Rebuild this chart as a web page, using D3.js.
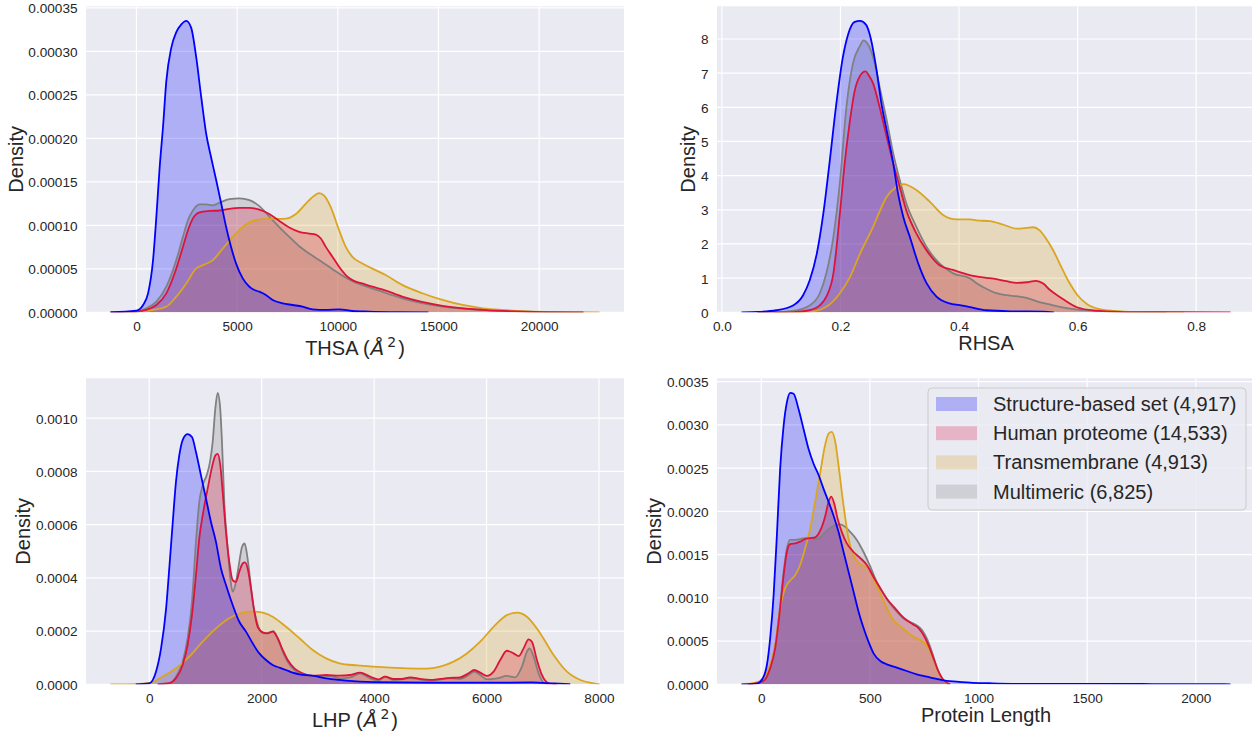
<!DOCTYPE html>
<html><head><meta charset="utf-8">
<script src="https://cdn.jsdelivr.net/npm/d3@7/dist/d3.min.js"></script>
<style>
body{margin:0;background:#fff;}
svg{display:block;}
text{font-family:"Liberation Sans",Arial,sans-serif;fill:#262626;}
</style>
</head><body>
<svg id="c" width="1252" height="734"></svg>
<script>
// ---------------- DATA ----------------
const seriesNames = ["Structure-based set (4,917)", "Human proteome (14,533)", "Transmembrane (4,913)", "Multimeric (6,825)"];
const seriesColors = ["#0000ff", "#dc143c", "#daa520", "#808080"];

// Panel A: THSA (Å²)  [x, density]
const thsaStructure = [[-1290,0],[0,0.0000019],[330,0.0000084],[580,0.000022],[825,0.00006],[990,0.00011],[1155,0.000167],[1320,0.000213],[1485,0.000266],[1730,0.000304],[1980,0.000322],[2230,0.000331],[2475,0.000335],[2720,0.000327],[2970,0.000293],[3220,0.000247],[3465,0.000205],[3710,0.000178],[3960,0.000152],[4210,0.000125],[4455,0.000098],[4700,0.000075],[4950,0.000056],[5280,0.000039],[5610,0.0000294],[5860,0.0000256],[6100,0.0000237],[6430,0.0000199],[6765,0.0000141],[7260,0.0000103],[7755,0.0000084],[8250,0.0000065],[8745,0.0000034],[9400,0.0000027],[10065,0.0000034],[10725,0.0000015],[11550,0.0000008],[13000,0.0000002],[14500,0]];
const thsaHuman = [[-1290,0],[0,0.0000008],[495,0.0000027],[990,0.0000084],[1485,0.0000218],[1980,0.0000504],[2310,0.0000752],[2560,0.0000944],[2805,0.000108],[3135,0.000115],[3630,0.0001165],[4125,0.000117],[4620,0.000119],[5115,0.00012],[5610,0.00012],[6105,0.000118],[6600,0.000113],[7095,0.000105],[7590,0.0000974],[8085,0.0000924],[8580,0.0000905],[8910,0.0000894],[9160,0.0000848],[9405,0.0000752],[9735,0.0000638],[10065,0.0000523],[10395,0.0000428],[10725,0.000037],[11220,0.0000332],[11715,0.0000294],[12210,0.0000264],[13200,0.000018],[15200,0.0000075],[17200,0.0000028],[19200,0.0000008],[22200,0]];
const thsaTransmembrane = [[-300,0],[825,0.0000027],[1485,0.0000065],[1980,0.000018],[2475,0.0000332],[2970,0.0000504],[3300,0.0000542],[3795,0.00006],[4290,0.0000733],[4785,0.0000867],[5280,0.000098],[5775,0.000105],[6270,0.000107],[6765,0.0001073],[7425,0.0001077],[7920,0.000113],[8415,0.000125],[8830,0.000134],[9075,0.000137],[9320,0.000134],[9650,0.000121],[10065,0.0000944],[10395,0.0000752],[10725,0.0000638],[11220,0.0000562],[11880,0.0000485],[12375,0.0000428],[13200,0.0000315],[14200,0.0000219],[15200,0.0000142],[16200,0.0000084],[17200,0.0000046],[18200,0.0000027],[20200,0.0000006],[23000,0]];
const thsaMultimeric = [[-1290,0],[0,0.0000011],[495,0.0000046],[990,0.0000122],[1485,0.0000294],[1980,0.00006],[2310,0.0000867],[2560,0.000106],[2805,0.000117],[3135,0.000124],[3465,0.000124],[3795,0.000123],[4125,0.000126],[4620,0.00013],[5115,0.000131],[5610,0.000129],[6105,0.000122],[6600,0.00011],[7095,0.000098],[7590,0.0000867],[8085,0.000076],[8580,0.0000676],[9075,0.00006],[9570,0.0000523],[10065,0.0000447],[10560,0.0000378],[11055,0.0000325],[11550,0.0000286],[12045,0.0000248],[13200,0.000016],[15200,0.0000065],[17200,0.0000027],[19200,0.0000008],[22200,0]];
const thsaXTicks = [0, 5000, 10000, 15000, 20000];
const thsaYTicks = [0, 0.00005, 0.0001, 0.00015, 0.0002, 0.00025, 0.0003, 0.00035];

// Panel B: RHSA
const rhsaStructure = [[0.033,0],[0.06,0.01],[0.092,0.06],[0.12,0.2],[0.137,0.5],[0.148,0.93],[0.16,1.71],[0.171,2.88],[0.182,4.44],[0.193,6.1],[0.204,7.46],[0.213,8.14],[0.224,8.5],[0.233,8.53],[0.243,8.42],[0.249,8.16],[0.261,7.08],[0.269,6.12],[0.278,5.33],[0.289,4.36],[0.297,3.49],[0.306,2.79],[0.317,2.21],[0.331,1.44],[0.345,0.86],[0.362,0.46],[0.384,0.26],[0.401,0.21],[0.419,0.15],[0.446,0.06],[0.486,0.03],[0.542,0.02],[0.56,0]];
const rhsaHuman = [[0.06,0],[0.12,0.005],[0.148,0.06],[0.165,0.2],[0.176,0.45],[0.188,1.13],[0.199,2.88],[0.207,4.34],[0.216,5.61],[0.224,6.48],[0.233,6.92],[0.242,7.05],[0.249,6.9],[0.255,6.7],[0.266,6.01],[0.278,5.13],[0.289,4.36],[0.3,3.67],[0.311,2.99],[0.328,2.31],[0.345,1.82],[0.367,1.38],[0.39,1.24],[0.412,1.12],[0.429,1.05],[0.446,1.01],[0.463,0.97],[0.48,0.91],[0.497,0.86],[0.514,0.88],[0.53,0.92],[0.542,0.84],[0.553,0.66],[0.57,0.45],[0.6,0.14],[0.63,0.05],[0.67,0.015],[0.72,0.004],[0.858,0]];
const rhsaTransmembrane = [[0.09,0],[0.148,0.01],[0.176,0.16],[0.199,0.56],[0.216,1.03],[0.233,1.72],[0.255,2.5],[0.266,2.95],[0.278,3.38],[0.294,3.67],[0.306,3.75],[0.328,3.58],[0.351,3.23],[0.373,2.85],[0.396,2.72],[0.419,2.72],[0.429,2.69],[0.452,2.67],[0.474,2.57],[0.497,2.45],[0.514,2.47],[0.525,2.49],[0.536,2.4],[0.547,2.15],[0.559,1.81],[0.57,1.42],[0.585,0.9],[0.6,0.5],[0.615,0.25],[0.635,0.1],[0.66,0.04],[0.7,0.01],[0.78,0]];
const rhsaMultimeric = [[0.06,0],[0.092,0.005],[0.12,0.04],[0.148,0.2],[0.165,0.55],[0.176,1.13],[0.188,2.2],[0.199,3.8],[0.21,6.0],[0.221,7.28],[0.233,7.8],[0.239,7.96],[0.246,7.85],[0.255,7.47],[0.266,6.6],[0.278,5.62],[0.289,4.65],[0.3,3.87],[0.311,3.19],[0.328,2.5],[0.345,1.92],[0.367,1.43],[0.39,1.14],[0.419,0.99],[0.429,0.86],[0.446,0.69],[0.463,0.56],[0.48,0.5],[0.497,0.47],[0.514,0.42],[0.53,0.33],[0.553,0.23],[0.57,0.16],[0.6,0.08],[0.65,0.03],[0.7,0.01],[0.75,0]];
const rhsaXTicks = [0, 0.2, 0.4, 0.6, 0.8];
const rhsaYTicks = [0, 1, 2, 3, 4, 5, 6, 7, 8];

// Panel C: LHP (Å²)
const lhpStructure = [[-240,0],[0,0.0000038],[120,0.0000475],[210,0.000135],[300,0.000285],[356,0.000435],[415,0.0006],[475,0.00076],[534,0.00086],[605,0.000923],[683,0.00094],[760,0.000929],[831,0.000873],[920,0.000785],[1009,0.000698],[1098,0.00061],[1187,0.000535],[1276,0.000435],[1365,0.000373],[1484,0.000298],[1602,0.000235],[1721,0.000198],[1840,0.000154],[1958,0.000116],[2077,0.0000913],[2196,0.0000725],[2315,0.0000625],[2433,0.0000538],[2552,0.0000438],[2671,0.0000375],[2908,0.0000325],[3146,0.0000225],[3383,0.0000163],[3500,0.0000138],[4000,0.000008],[5000,0.000006],[6000,0.000006],[6800,0.000007],[7200,0.000003],[7490,0]];
const lhpHuman = [[150,0],[356,0.000004],[475,0.0000225],[594,0.0000725],[683,0.000148],[760,0.00026],[831,0.00041],[890,0.000548],[961,0.000648],[1039,0.000735],[1116,0.000816],[1175,0.00086],[1217,0.000866],[1264,0.000823],[1306,0.000723],[1365,0.000573],[1424,0.00046],[1484,0.000391],[1543,0.000385],[1602,0.000423],[1662,0.000454],[1703,0.000458],[1751,0.000435],[1810,0.00036],[1870,0.000273],[1929,0.000216],[2018,0.000195],[2107,0.000191],[2196,0.000198],[2285,0.000173],[2374,0.000129],[2463,0.0000913],[2582,0.00006],[2730,0.0000413],[2908,0.0000313],[3146,0.000035],[3383,0.0000325],[3573,0.000035],[3751,0.0000438],[3929,0.0000288],[4077,0.0000188],[4196,0.0000288],[4344,0.00002],[4493,0.00002],[4641,0.0000263],[4819,0.00002],[4997,0.0000163],[5175,0.00002],[5353,0.0000238],[5531,0.000026],[5680,0.0000413],[5780,0.0000538],[5887,0.0000438],[6006,0.0000313],[6125,0.0000475],[6243,0.0000913],[6362,0.000126],[6481,0.000116],[6570,0.000106],[6659,0.000135],[6748,0.000169],[6807,0.00016],[6896,0.0000913],[6985,0.000035],[7104,0.0000038],[7250,0]];
const lhpTransmembrane = [[-690,0],[-237,0.000001],[0,0.000005],[237,0.0000288],[475,0.00006],[712,0.000104],[950,0.00016],[1187,0.00021],[1424,0.000248],[1662,0.000269],[1840,0.000273],[2018,0.000269],[2196,0.000254],[2433,0.000216],[2671,0.000173],[2908,0.000129],[3146,0.0000975],[3383,0.000079],[3700,0.000071],[3988,0.0000663],[4582,0.00006],[4938,0.0000588],[5175,0.0000663],[5413,0.000085],[5650,0.000116],[5887,0.00016],[6125,0.000216],[6362,0.00026],[6540,0.000269],[6718,0.000254],[6956,0.000191],[7193,0.00011],[7430,0.0000475],[7668,0.0000163],[7905,0.0000038],[8010,0]];
const lhpMultimeric = [[150,0],[356,0.0000038],[475,0.0000288],[594,0.000085],[683,0.000173],[760,0.00031],[831,0.000535],[890,0.000685],[950,0.000748],[1021,0.000785],[1080,0.000835],[1128,0.00091],[1175,0.001035],[1217,0.001095],[1258,0.001048],[1294,0.00091],[1335,0.000685],[1395,0.00051],[1442,0.000398],[1484,0.000348],[1543,0.000385],[1602,0.00046],[1650,0.000516],[1697,0.000529],[1745,0.000479],[1792,0.000398],[1840,0.00031],[1899,0.000248],[1958,0.000208],[2048,0.000191],[2137,0.000195],[2208,0.0002],[2285,0.000173],[2374,0.000123],[2463,0.000085],[2582,0.0000538],[2730,0.0000375],[2908,0.0000288],[3086,0.0000313],[3264,0.0000288],[3395,0.0000225],[3573,0.000026],[3751,0.0000413],[3929,0.000022],[4077,0.0000138],[4196,0.0000288],[4344,0.000016],[4641,0.000022],[4997,0.0000138],[5353,0.000022],[5531,0.00002],[5680,0.000035],[5780,0.0000475],[5887,0.000035],[6006,0.0000188],[6184,0.000022],[6362,0.0000313],[6510,0.0000263],[6629,0.0000663],[6718,0.000123],[6765,0.000135],[6837,0.000104],[6926,0.0000413],[7015,0.0000063],[7104,0]];
const lhpXTicks = [0, 2000, 4000, 6000, 8000];
const lhpYTicks = [0, 0.0002, 0.0004, 0.0006, 0.0008, 0.001];

// Panel D: Protein Length
const lenStructure = [[-91,0],[-20,0.000008],[11,0.0000885],[26,0.000223],[41,0.00053],[57,0.00103],[72,0.00172],[87,0.00249],[103,0.00299],[118,0.00326],[133,0.00337],[149,0.00336],[172,0.00318],[195,0.00295],[218,0.00272],[241,0.00255],[264,0.00242],[287,0.00226],[310,0.00211],[333,0.00195],[356,0.00176],[379,0.00153],[402,0.0013],[425,0.00107],[448,0.00084],[471,0.00065],[494,0.00049],[517,0.000358],[548,0.000269],[578,0.000231],[624,0.000192],[670,0.000154],[716,0.000115],[762,0.0000885],[808,0.0000615],[854,0.0000385],[900,0.0000308],[962,0.0000192],[1050,0.000012],[1150,0.000006],[1300,0.000004],[1500,0.000005],[1800,0.000003],[2000,0.000002],[2160,0]];
const lenHuman = [[-60,0],[11,0.0000385],[41,0.000185],[64,0.000415],[87,0.000877],[103,0.00126],[118,0.00153],[133,0.00162],[156,0.00163],[179,0.00165],[202,0.00168],[225,0.00169],[248,0.0017],[272,0.00178],[295,0.00195],[310,0.00211],[322,0.00217],[336,0.00209],[351,0.00192],[371,0.00176],[394,0.00163],[425,0.00153],[456,0.00146],[486,0.00138],[517,0.00124],[548,0.00111],[578,0.00099],[609,0.0009],[640,0.00081],[670,0.00074],[701,0.00069],[724,0.00065],[747,0.00057],[770,0.00045],[793,0.0003],[816,0.000146],[839,0.00005],[870,0]];
const lenTransmembrane = [[-91,0],[-20,0.000023],[11,0.000077],[41,0.000223],[64,0.00045],[87,0.000877],[110,0.00111],[133,0.0012],[156,0.00126],[179,0.00138],[202,0.00157],[225,0.0018],[248,0.00211],[272,0.00245],[290,0.00272],[310,0.0029],[325,0.00292],[341,0.0028],[356,0.00253],[371,0.00222],[387,0.00192],[402,0.00168],[425,0.00149],[448,0.0014],[471,0.00137],[494,0.00134],[517,0.00122],[548,0.00105],[578,0.00088],[609,0.00074],[640,0.00067],[670,0.00061],[701,0.00055],[732,0.00051],[762,0.00045],[785,0.00034],[808,0.000185],[831,0.00007],[860,0]];
const lenMultimeric = [[-60,0],[11,0.00005],[41,0.00019],[64,0.000435],[87,0.000915],[103,0.0013],[118,0.00157],[133,0.00167],[156,0.00167],[179,0.00168],[202,0.00169],[225,0.00169],[248,0.00168],[272,0.0017],[295,0.00176],[318,0.00181],[341,0.00184],[364,0.00185],[387,0.00182],[410,0.00176],[440,0.00167],[471,0.00153],[502,0.00136],[532,0.00118],[563,0.00105],[594,0.00093],[624,0.00084],[655,0.00076],[686,0.00072],[716,0.00068],[739,0.00063],[762,0.00053],[785,0.00038],[808,0.0002],[831,0.00007],[860,0]];
const lenXTicks = [0, 500, 1000, 1500, 2000];
const lenYTicks = [0, 0.0005, 0.001, 0.0015, 0.002, 0.0025, 0.003, 0.0035];

// ---------------- LAYOUT ----------------
const svg = d3.select("#c");
const W = 538, H = 306;
const panels = [
  {left: 86,  top: 6.3,   series: [thsaStructure, thsaHuman, thsaTransmembrane, thsaMultimeric], xTicks: thsaXTicks, yTicks: thsaYTicks, xFmt: d3.format("d"),  yFmt: d3.format(".5f"), xlabel: "THSA", math: true},
  {left: 717, top: 6.3,   series: [rhsaStructure, rhsaHuman, rhsaTransmembrane, rhsaMultimeric], xTicks: rhsaXTicks, yTicks: rhsaYTicks, xFmt: d3.format(".1f"), yFmt: d3.format("d"), xlabel: "RHSA", math: false},
  {left: 86,  top: 378.3, series: [lhpStructure, lhpHuman, lhpTransmembrane, lhpMultimeric], xTicks: lhpXTicks, yTicks: lhpYTicks, xFmt: d3.format("d"), yFmt: d3.format(".4f"), xlabel: "LHP", math: true},
  {left: 717, top: 378.3, series: [lenStructure, lenHuman, lenTransmembrane, lenMultimeric], xTicks: lenXTicks, yTicks: lenYTicks, xFmt: d3.format("d"), yFmt: d3.format(".4f"), xlabel: "Protein Length", math: false, legend: true}
];

panels.forEach((p, pi) => {
  const all = p.series.flat();
  const xmin = d3.min(all, d => d[0]), xmax = d3.max(all, d => d[0]);
  const ymax = d3.max(all, d => d[1]);
  const pad = (xmax - xmin) * 0.05;
  const x = d3.scaleLinear().domain([xmin - pad, xmax + pad]).range([0, W]);
  const y = d3.scaleLinear().domain([0, ymax * 1.05]).range([H, 0]);

  const g = svg.append("g").attr("transform", `translate(${p.left},${p.top})`);
  g.append("rect").attr("width", W).attr("height", H).attr("fill", "#eaeaf2");

  // grid
  g.append("g").selectAll("line").data(p.xTicks).join("line")
    .attr("x1", d => x(d)).attr("x2", d => x(d)).attr("y1", 0).attr("y2", H)
    .attr("stroke", "#fff").attr("stroke-width", 1.2);
  g.append("g").selectAll("line").data(p.yTicks).join("line")
    .attr("y1", d => y(d)).attr("y2", d => y(d)).attr("x1", 0).attr("x2", W)
    .attr("stroke", "#fff").attr("stroke-width", 1.2);

  const clipId = "clip" + pi;
  g.append("clipPath").attr("id", clipId).append("rect").attr("width", W).attr("height", H);
  const plot = g.append("g").attr("clip-path", `url(#${clipId})`);

  const area = d3.area().x(d => x(d[0])).y0(y(0)).y1(d => y(d[1])).curve(d3.curveMonotoneX);
  const line = d3.line().x(d => x(d[0])).y(d => y(d[1])).curve(d3.curveMonotoneX);
  // fills first (last level at the bottom), then all outlines on top
  const order = d3.range(p.series.length - 1, -1, -1);
  order.forEach(i => {
    plot.append("path").attr("d", area(p.series[i])).attr("fill", seriesColors[i]).attr("fill-opacity", 0.25);
  });
  order.forEach(i => {
    plot.append("path").attr("d", line(p.series[i])).attr("fill", "none").attr("stroke", seriesColors[i])
      .attr("stroke-width", 1.8).attr("stroke-linejoin", "round");
  });

  // axes
  const xAxis = g.append("g").attr("transform", `translate(0,${H})`)
    .call(d3.axisBottom(x).tickValues(p.xTicks).tickFormat(p.xFmt).tickSize(0).tickPadding(8.8));
  const yAxis = g.append("g")
    .call(d3.axisLeft(y).tickValues(p.yTicks).tickFormat(p.yFmt).tickSize(0).tickPadding(8.5));
  [xAxis, yAxis].forEach(a => {
    a.select(".domain").remove();
    a.selectAll("text").attr("font-size", 13.6).attr("font-family", '"Liberation Sans",Arial,sans-serif').attr("fill", "#262626");
  });
  yAxis.selectAll("text").attr("dy", "0.36em");

  let maxW = 0;
  yAxis.selectAll("text").each(function(){ maxW = Math.max(maxW, this.getComputedTextLength()); });

  // y label
  g.append("text").attr("transform", `translate(${-8.5 - maxW - 5.5},${H/2}) rotate(-90)`)
    .attr("text-anchor", "middle").attr("font-size", 20).text("Density");

  // x label (math labels sit a little lower, as the superscript makes their box taller)
  const xl = g.append("text").attr("x", W/2).attr("y", H + (p.math ? 42.5 : 37.5)).attr("text-anchor", "middle").attr("font-size", 20);
  if (p.math) {
    xl.append("tspan").text(p.xlabel + " (");
    xl.append("tspan").attr("dx", 1).attr("font-family", '"DejaVu Sans",sans-serif').attr("font-style", "italic").text("Å");
    xl.append("tspan").attr("font-family", '"DejaVu Sans",sans-serif').attr("font-size", 14).attr("dx", 3).attr("dy", -8).text("2");
    xl.append("tspan").attr("dy", 8).attr("dx", 2).text(")");
  } else {
    xl.text(p.xlabel);
  }

  if (p.legend) {
    const lg = g.append("g").attr("transform", `translate(${928 - p.left},${388 - p.top})`);
    lg.append("rect").attr("width", 318).attr("height", 122).attr("rx", 4)
      .attr("fill", "#eaeaf2").attr("fill-opacity", 0.8).attr("stroke", "#cccccc").attr("stroke-width", 1);
    seriesNames.forEach((n, i) => {
      const cy = 16 + i * 29.2;
      lg.append("rect").attr("x", 8).attr("y", cy - 7).attr("width", 41).attr("height", 14)
        .attr("fill", seriesColors[i]).attr("fill-opacity", 0.25);
      lg.append("text").attr("x", 65).attr("y", cy).attr("dy", "0.35em").attr("font-size", 20).text(n);
    });
  }
});
</script>
</body></html>
